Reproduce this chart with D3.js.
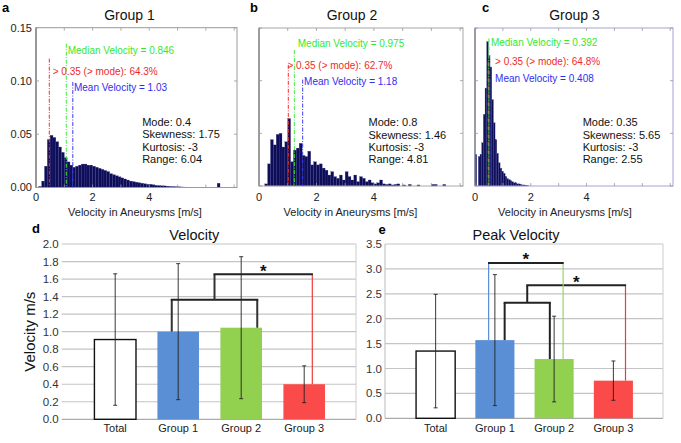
<!DOCTYPE html>
<html><head><meta charset="utf-8">
<script src="https://cdn.jsdelivr.net/npm/d3@7"></script>
<style>body{margin:0;background:#fff}svg{display:block;font-family:"Liberation Sans",Arial,sans-serif}</style>
</head><body><svg id="c" width="681" height="443"></svg>
<script>
// ---------------- DATA ----------------
const histTitles = ["Group 1", "Group 2", "Group 3"];
const histLetters = ["a", "b", "c"];
const histBinWidth = [0.1, 0.1, 0.06];
const group1Hist = [0, 0.001, 0.006, 0.020, 0.045, 0.049, 0.047, 0.043, 0.038, 0.033,
  0.028, 0.024, 0.021, 0.019, 0.020, 0.021, 0.022, 0.022, 0.021, 0.021,
  0.020, 0.019, 0.018, 0.017, 0.016, 0.015, 0.013, 0.012, 0.011, 0.010,
  0.009, 0.008, 0.007, 0.006, 0.0055, 0.005, 0.0045, 0.004, 0.0035, 0.003,
  0.003, 0.0025, 0.002, 0.0018, 0.0016, 0.0015, 0.0012, 0.001, 0.0009, 0.0008,
  0.0007, 0.0005, 0.0004, 0.0003, 0.0002, 0.0002, 0.0001, 0.0001, 0.0001, 0.0001,
  0, 0, 0, 0, 0.004];
const group2Hist = [0, 0, 0.002, 0.021, 0.044, 0.039, 0.049, 0.050, 0.037, 0.042,
  0.064, 0.023, 0.034, 0.036, 0.0405, 0.029, 0.028, 0.033, 0.020, 0.023,
  0.020, 0.021, 0.017, 0.015, 0.0104, 0.0136, 0.0089, 0.0073, 0.0104, 0.0057,
  0.0136, 0.0089, 0.0057, 0.0104, 0.0041, 0.0089, 0.0073, 0.0041, 0.0057, 0.003,
  0.002, 0.003, 0.0057, 0.002, 0.0015, 0.002, 0.001, 0.0015, 0.002, 0,
  0.001, 0, 0.0015, 0, 0, 0.001, 0, 0, 0, 0,
  0.0015, 0.0015, 0, 0, 0.0015];
const group3Hist = [0.030, 0, 0.028, 0.030, 0.041, 0.068, 0.093, 0.137, 0.124, 0.113,
  0.082, 0.060, 0.044, 0.031, 0.022, 0.017, 0.014, 0.012, 0.009, 0.007,
  0.006, 0.005, 0.004, 0.003, 0.003, 0.002, 0.002, 0.0015, 0.001, 0.001,
  0.0008, 0.0005];
const histData = [group1Hist, group2Hist, group3Hist];
const histXTicks = [0, 2, 4];
const histXMinorTicks = [0, 1, 2, 3, 4, 5, 6, 7];
const histYTicks = [0, 0.05, 0.10, 0.15];

const modeLineX = [0.47, 1.02, 0.47];
const modeLineTop = [0.121, 0.115, 0.118];
const medianLineX = [1.07, 1.23, 0.50];
const medianLineTop = [0.135, 0.129, 0.140];
const meanLineX = [1.30, 1.52, 0.53];
const meanLineTop = [0.099, 0.101, 0.101];

const modeLabels = ["> 0.35 (> mode): 64.3%", "> 0.35 (> mode): 62.7%", "> 0.35 (> mode): 64.8%"];
const medianLabels = ["Median Velocity = 0.846", "Median Velocity = 0.975", "Median Velocity = 0.392"];
const meanLabels = ["Mean Velocity = 1.03", "Mean Velocity = 1.18", "Mean Velocity = 0.408"];
const modeLabelPos = [[0.59, 0.109], [0.99, 0.114], [0.72, 0.118]];
const medianLabelPos = [[1.12, 0.129], [1.35, 0.135], [0.57, 0.136]];
const meanLabelPos = [[1.34, 0.094], [1.57, 0.099], [0.72, 0.1016]];

const statMode = ["0.4", "0.8", "0.35"];
const statSkewness = ["1.75", "1.46", "5.65"];
const statKurtosis = ["-3", "-3", "-3"];
const statRange = ["6.04", "4.81", "2.55"];
const statPos = [[3.75, 0.0614], [3.81, 0.0605], [3.86, 0.0605]];

const categories = ["Total", "Group 1", "Group 2", "Group 3"];
const velocityMean = [0.91, 1.00, 1.045, 0.40];
const velocitySD = [0.75, 0.776, 0.81, 0.21];
const peakMean = [1.35, 1.57, 1.19, 0.756];
const peakSD = [1.14, 1.315, 0.86, 0.395];
const velocityTicks = [0, 0.2, 0.4, 0.6, 0.8, 1.0, 1.2, 1.4, 1.6, 1.8, 2.0];
const peakTicks = [0, 0.5, 1.0, 1.5, 2.0, 2.5, 3.0, 3.5];
const barColors = ["#ffffff", "#5a8fd6", "#92d050", "#fb4a4a"];

const velocityBrackets = [
  {a: "Group 1", fa: 0.345, b: "Group 2", fb: 0.886, h: 1.365, ca: "#333", cb: "#333", star: false, fromMid: null},
  {a: null, fa: 0, b: "Group 3", fb: 0.695, h: 1.655, ca: "#333", cb: "#ec3b3b", star: true, fromMid: 0}
];
const peakBrackets = [
  {a: "Group 1", fa: 0.75, b: "Group 2", fb: 0.39, h: 2.32, ca: "#222", cb: "#222", star: false, fromMid: null},
  {a: null, fa: 0, b: "Group 3", fb: 0.81, h: 2.67, ca: "#222", cb: "#ec3b3b", star: true, fromMid: 0},
  {a: "Group 1", fa: 0.34, b: "Group 2", fb: 0.73, h: 3.12, ca: "#5a8fd6", cb: "#9ad463", star: true, fromMid: null}
];

// ---------------- LAYOUT ----------------
const svg = d3.select("#c");
const histLayout = [
  {x: [36, 237], y: [187.5, 27.7], title: 129.5, letter: [2, 12], xlab: 135, box: "#9a9a9a", yLabels: true},
  {x: [259, 463], y: [186, 28], title: 352, letter: [250, 12], xlab: 350.5, box: "#a8a8a8", yLabels: false},
  {x: [475, 673], y: [186, 28], title: 574.5, letter: [482, 12], xlab: 565, box: "#a3a3d6", yLabels: false}
];

histData.forEach((vals, i) => {
  const L = histLayout[i];
  const x = d3.scaleLinear().domain([0, 7.1]).range(L.x);
  const y = d3.scaleLinear().domain([0, 0.15]).range(L.y);
  const g = svg.append("g");
  const bw = histBinWidth[i];
  g.selectAll("rect.bar").data(vals).enter().append("rect")
    .attr("x", (d, k) => x(k * bw))
    .attr("width", (d, k) => x((k + 1) * bw) - x(k * bw))
    .attr("y", d => y(d))
    .attr("height", d => y(0) - y(d))
    .attr("fill", "#0d0d58")
    .attr("stroke", "#3b3b86").attr("stroke-width", 0.25);
  g.append("rect").attr("x", L.x[0]).attr("y", L.y[1]).attr("width", L.x[1] - L.x[0])
    .attr("height", L.y[0] - L.y[1]).attr("fill", "none").attr("stroke", L.box).attr("stroke-width", 1);
  g.append("line").attr("x1", L.x[0]).attr("x2", L.x[0]).attr("y1", L.y[0]).attr("y2", L.y[1])
    .attr("stroke", "#666").attr("stroke-width", 1);
  histXMinorTicks.forEach(t => {
    [[L.y[0], -3], [L.y[1], 3]].forEach(([yy, d]) => {
      g.append("line").attr("x1", x(t)).attr("x2", x(t)).attr("y1", yy).attr("y2", yy + d)
        .attr("stroke", "#999").attr("stroke-width", 0.8);
    });
  });
  histYTicks.forEach(t => {
    [[L.x[0], 3], [L.x[1], -3]].forEach(([xx, d]) => {
      g.append("line").attr("x1", xx).attr("x2", xx + d).attr("y1", y(t)).attr("y2", y(t))
        .attr("stroke", "#999").attr("stroke-width", 0.8);
    });
  });
  histXTicks.forEach(t => {
    g.append("text").attr("x", x(t)).attr("y", 200.5).attr("text-anchor", "middle")
      .attr("font-size", 11).attr("fill", "#222").text(t);
  });
  if (L.yLabels) {
    histYTicks.forEach(t => {
      g.append("text").attr("x", L.x[0] - 4).attr("y", y(t)).attr("dy", "0.35em").attr("text-anchor", "end")
        .attr("font-size", 11).attr("fill", "#222").text(d3.format(".2f")(t));
    });
  }
  g.append("text").attr("x", L.xlab).attr("y", 215.5).attr("text-anchor", "middle")
    .attr("font-size", 11).attr("fill", "#222").text("Velocity in Aneurysms [m/s]");
  g.append("text").attr("x", L.title).attr("y", 20).attr("text-anchor", "middle")
    .attr("font-size", 14).attr("fill", "#111").text(histTitles[i]);
  g.append("text").attr("x", L.letter[0]).attr("y", L.letter[1]).attr("font-size", 13)
    .attr("font-weight", "bold").attr("fill", "#000").text(histLetters[i]);
  const lines = [
    [modeLineX[i], modeLineTop[i], "#f03030"],
    [medianLineX[i], medianLineTop[i], "#3de83d"],
    [meanLineX[i], meanLineTop[i], "#3a3af0"]
  ];
  lines.forEach(([lx, top, col]) => {
    g.append("line").attr("x1", x(lx)).attr("x2", x(lx)).attr("y1", y(top)).attr("y2", y(0))
      .attr("stroke", col).attr("stroke-width", 1).attr("stroke-dasharray", "4,1.5,1,1.5");
  });
  const labs = [
    [modeLabels[i], modeLabelPos[i], "#f02a2a"],
    [medianLabels[i], medianLabelPos[i], "#33e833"],
    [meanLabels[i], meanLabelPos[i], "#2e2ef0"]
  ];
  labs.forEach(([t, p, col]) => {
    g.append("text").attr("x", x(p[0])).attr("y", y(p[1])).attr("dy", "0.35em")
      .attr("font-size", 10).attr("fill", col).text(t);
  });
  const stats = ["Mode: " + statMode[i], "Skewness: " + statSkewness[i],
    "Kurtosis: " + statKurtosis[i], "Range: " + statRange[i]];
  stats.forEach((t, k) => {
    g.append("text").attr("x", x(statPos[i][0])).attr("y", y(statPos[i][1]) + k * 12.4).attr("dy", "0.35em")
      .attr("font-size", 11).attr("fill", "#111").text(t);
  });
});

// ---------------- BAR CHARTS ----------------
const barLayout = [
  {title: "Velocity", titleX: 194.3, letter: "d", letterPos: [32, 233], plot: [61.7, 356], band: [83.7, 335.7],
   y: [419.3, 244], max: 2.0, ticks: velocityTicks, mean: velocityMean, sd: velocitySD, brackets: velocityBrackets,
   ylab: "Velocity m/s", leftAxis: false},
  {title: "Peak Velocity", titleX: 516, letter: "e", letterPos: [378.5, 234], plot: [385, 663], band: [406, 643],
   y: [418.3, 244], max: 3.5, ticks: peakTicks, mean: peakMean, sd: peakSD, brackets: peakBrackets,
   ylab: null, leftAxis: true}
];

barLayout.forEach(L => {
  const g = svg.append("g");
  const xb = d3.scaleBand().domain(categories).range(L.band).paddingInner(0.34).paddingOuter(0.17);
  const y = d3.scaleLinear().domain([0, L.max]).range(L.y);
  L.ticks.forEach(t => {
    g.append("line").attr("x1", L.plot[0]).attr("x2", L.plot[1]).attr("y1", y(t)).attr("y2", y(t))
      .attr("stroke", t === 0 ? "#aaa" : "#c4c4c4").attr("stroke-width", 1.2);
    g.append("text").attr("x", L.plot[0] - 3).attr("y", y(t)).attr("dy", "0.35em").attr("text-anchor", "end")
      .attr("font-size", 11.5).attr("fill", "#333").text(d3.format(".1f")(t));
  });
  g.append("line").attr("x1", L.plot[1]).attr("x2", L.plot[1]).attr("y1", y(L.max)).attr("y2", y(0))
    .attr("stroke", "#ccc").attr("stroke-width", 1);
  if (L.leftAxis) {
    g.append("line").attr("x1", L.plot[0]).attr("x2", L.plot[0]).attr("y1", y(L.max)).attr("y2", y(0))
      .attr("stroke", "#bbb").attr("stroke-width", 1);
  }
  categories.forEach((c, k) => {
    g.append("rect").attr("x", xb(c)).attr("width", xb.bandwidth())
      .attr("y", y(L.mean[k])).attr("height", y(0) - y(L.mean[k]))
      .attr("fill", barColors[k]).attr("stroke", k === 0 ? "#111" : "none").attr("stroke-width", 1.4);
  });
  categories.forEach((c, k) => {
    const cx = xb(c) + xb.bandwidth() / 2;
    const lo = y(L.mean[k] - L.sd[k]), hi = y(L.mean[k] + L.sd[k]);
    g.append("line").attr("x1", cx).attr("x2", cx).attr("y1", lo).attr("y2", hi).attr("stroke", "#222").attr("stroke-width", 0.9);
    [lo, hi].forEach(yy => g.append("line").attr("x1", cx - 2).attr("x2", cx + 2).attr("y1", yy).attr("y2", yy)
      .attr("stroke", "#222").attr("stroke-width", 0.9));
  });
  const mids = [];
  L.brackets.forEach(b => {
    let xa, ya;
    if (b.fromMid !== null) {
      xa = mids[b.fromMid][0]; ya = mids[b.fromMid][1];
    } else {
      xa = xb(b.a) + b.fa * xb.bandwidth(); ya = y(L.mean[categories.indexOf(b.a)]);
    }
    const xbb = xb(b.b) + b.fb * xb.bandwidth();
    const ybb = y(L.mean[categories.indexOf(b.b)]);
    const yh = y(b.h);
    const wa = b.ca === "#333" || b.ca === "#222" ? 2 : 1.2;
    const wb = b.cb === "#333" || b.cb === "#222" ? 2 : 1.2;
    g.append("line").attr("x1", xa).attr("x2", xa).attr("y1", ya).attr("y2", yh).attr("stroke", b.ca).attr("stroke-width", wa);
    g.append("line").attr("x1", xbb).attr("x2", xbb).attr("y1", ybb).attr("y2", yh).attr("stroke", b.cb).attr("stroke-width", wb);
    g.append("line").attr("x1", xa - (wa > 1.5 ? 1 : 0.6)).attr("x2", xbb + (wb > 1.5 ? 1 : 0.6)).attr("y1", yh).attr("y2", yh)
      .attr("stroke", "#222").attr("stroke-width", 2);
    mids.push([(xa + xbb) / 2, yh]);
    if (b.star) {
      g.append("text").attr("x", (xa + xbb) / 2).attr("y", yh + 2.5).attr("text-anchor", "middle")
        .attr("font-size", 17).attr("font-weight", "bold").attr("fill", "#111").text("*");
    }
  });
  categories.forEach(c => {
    g.append("text").attr("x", xb(c) + xb.bandwidth() / 2).attr("y", 432).attr("text-anchor", "middle")
      .attr("font-size", 11).attr("fill", "#222").text(c);
  });
  g.append("text").attr("x", L.titleX).attr("y", 240).attr("text-anchor", "middle")
    .attr("font-size", 14.5).attr("fill", "#111").text(L.title);
  g.append("text").attr("x", L.letterPos[0]).attr("y", L.letterPos[1]).attr("font-size", 13)
    .attr("font-weight", "bold").attr("fill", "#000").text(L.letter);
  if (L.ylab) {
    g.append("text").attr("transform", "translate(29.3,331.7) rotate(-90)").attr("dy", "0.35em")
      .attr("text-anchor", "middle").attr("font-size", 15).attr("fill", "#111").text(L.ylab);
  }
});
</script></body></html>
